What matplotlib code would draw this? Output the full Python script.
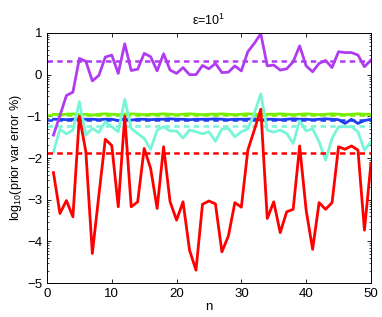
import numpy as np
import matplotlib.pyplot as plt

plt.rcParams['font.family'] = ['Liberation Sans', 'DejaVu Sans']
plt.rcParams['mathtext.fontset'] = 'custom'
plt.rcParams['mathtext.rm'] = 'Liberation Sans'

# --------------------------------------------------
# Data (log10 of prior variance error %)
# --------------------------------------------------
n = np.arange(1, 51)

purple = [-1.45, -0.98, -0.50, -0.42, 0.39, 0.32, -0.15, -0.02, 0.42, 0.47,
          0.03, 0.74, 0.10, 0.13, 0.51, 0.43, 0.09, 0.50, 0.11, 0.03,
          0.17, 0.00, 0.00, 0.22, 0.14, 0.27, 0.05, 0.06, 0.21, 0.09,
          0.55, 0.75, 0.98, 0.21, 0.23, 0.11, 0.14, 0.31, 0.69, 0.21,
          0.07, 0.27, 0.34, 0.17, 0.55, 0.53, 0.53, 0.47, 0.19, 0.35]
purple_mean = 0.33

green = [-0.95, -0.96, -0.95, -0.94, -0.96, -0.95, -0.97, -0.95, -0.94, -0.95,
         -0.96, -0.95, -0.94, -0.95, -0.96, -0.95, -0.95, -0.94, -0.95, -0.96,
         -0.95, -0.94, -0.95, -0.96, -0.95, -0.95, -0.94, -0.95, -0.96, -0.95,
         -0.94, -0.95, -0.96, -0.95, -0.95, -0.94, -0.95, -0.96, -0.95, -0.94,
         -0.95, -0.96, -0.95, -0.94, -0.95, -0.96, -0.95, -0.94, -0.95, -0.95]
green_mean = -0.96

blue = [-1.07, -1.07, -1.08, -1.07, -1.06, -1.07, -1.07, -1.08, -1.07, -1.07,
        -1.10, -1.06, -1.09, -1.07, -1.07, -1.08, -1.07, -1.07, -1.06, -1.07,
        -1.07, -1.08, -1.07, -1.07, -1.07, -1.06, -1.07, -1.08, -1.07, -1.07,
        -1.07, -1.06, -1.09, -1.07, -1.07, -1.08, -1.07, -1.06, -1.07, -1.07,
        -1.08, -1.07, -1.06, -1.07, -1.08, -1.17, -1.07, -1.17, -1.10, -1.07]
blue_mean = -1.08

cyan = [-1.85, -1.31, -1.42, -1.33, -0.65, -1.45, -1.29, -1.39, -1.13, -1.25,
        -1.37, -0.59, -1.29, -1.41, -1.53, -1.79, -1.33, -1.25, -1.35, -1.35,
        -1.52, -1.33, -1.37, -1.42, -1.37, -1.60, -1.30, -1.29, -1.49, -1.37,
        -1.30, -0.93, -0.46, -1.33, -1.38, -1.33, -1.41, -1.65, -1.11, -1.35,
        -1.30, -1.61, -2.05, -1.53, -1.25, -1.25, -1.25, -1.37, -1.81, -1.61]
cyan_mean = -1.22

red = [-2.35, -3.33, -3.02, -3.41, -1.00, -1.85, -4.29, -2.90, -1.55, -1.70,
       -3.17, -1.00, -3.17, -3.05, -1.77, -2.25, -3.21, -1.73, -3.05, -3.49,
       -3.05, -4.21, -4.69, -3.11, -3.03, -3.10, -4.25, -3.87, -3.07, -3.18,
       -1.81, -1.33, -0.83, -3.45, -3.05, -3.79, -3.29, -3.23, -1.71, -3.25,
       -4.19, -3.07, -3.23, -3.07, -1.73, -1.79, -1.71, -1.81, -3.73, -2.13]
red_mean = -1.87

series = [
    (green, green_mean, "#76ee00"),
    (blue, blue_mean, "#2040f0"),
    (cyan, cyan_mean, "#78f5d8"),
    (purple, purple_mean, "#b03cf0"),
    (red, red_mean, "#ff0000"),
]

# --------------------------------------------------
# Plot
# --------------------------------------------------
fig = plt.figure(figsize=(3.82, 3.17), dpi=100)
ax = fig.add_axes([0.123, 0.107, 0.848, 0.789])

for vals, mean, col in series:
    ax.plot(n, vals, color=col, lw=2.0)
    ax.plot([n[0] - 1, n[-1]], [mean, mean], color=col, lw=1.8, ls=(0, (2.2, 1.7)))

ax.set_xlim(0, 50)
ax.set_ylim(-5, 1)
ax.set_xticks(range(0, 51, 10))
ax.set_yticks(range(-5, 2))

minor = [d + np.log10(k) for d in range(-5, 1) for k in range(2, 10)]
ax.set_yticks(minor, minor=True)

ax.tick_params(direction="in", top=True, right=True, labelsize=9.5, length=3, width=0.6)
ax.tick_params(which="minor", direction="in", right=True, length=1.5, width=0.5)
for s in ax.spines.values():
    s.set_linewidth(0.7)

ax.set_xlabel("n", fontsize=9.5, labelpad=1)
ax.set_ylabel("log$_{10}$(prior var error %)", fontsize=9, labelpad=2)
ax.set_title("\u03b5=10$^{1}$", fontsize=9, pad=6)

fig.savefig("out.png", dpi=100)
